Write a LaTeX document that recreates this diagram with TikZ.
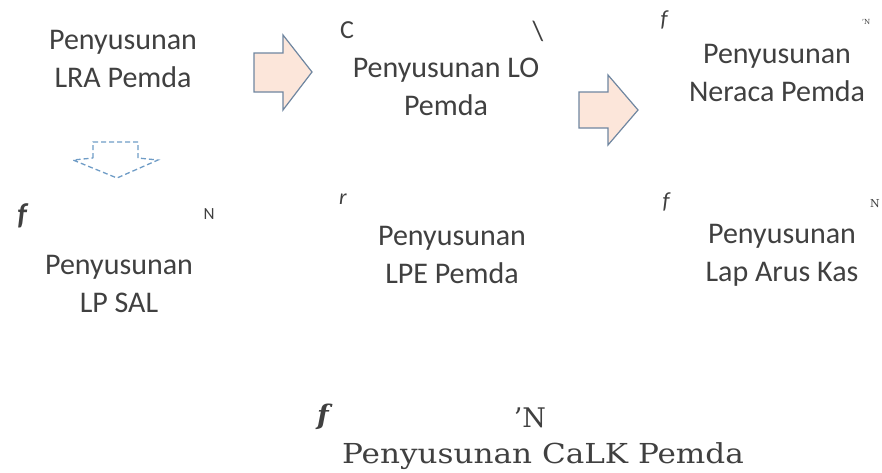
\documentclass[tikz,border=0pt]{standalone}
\usepackage{fontspec}
\setmainfont{Carlito}
\newfontfamily\bookf{DejaVu Serif}
\definecolor{txt}{HTML}{404040}
\definecolor{arrfill}{HTML}{FCE6DA}
\definecolor{arrline}{HTML}{6F86A0}
\definecolor{dashline}{HTML}{6F9CC6}
\tikzset{
  lbl/.style={align=center, text=txt, inner sep=0pt, font=\fontsize{30}{38}\selectfont},
  stray/.style={text=txt, inner sep=0pt},
  blockarrow/.style={draw=arrline, fill=arrfill, line width=1.2pt, line join=miter},
  dasharrow/.style={draw=dashline, line width=1.3pt, dash pattern=on 5pt off 3pt}
}
\begin{document}
\begin{tikzpicture}[x=1pt,y=-1pt]
\useasboundingbox (0,0) rectangle (882,472);
% main labels
\node[lbl] (lra) at (123,59) {Penyusunan\\LRA Pemda};
\node[lbl] (lo) at (446,87) {Penyusunan LO\\Pemda};
\node[lbl] (ner) at (777,73) {Penyusunan\\Neraca Pemda};
\node[lbl] (sal) at (119,284) {Penyusunan\\LP SAL};
\node[lbl] (lpe) at (452,255) {Penyusunan\\LPE Pemda};
\node[lbl] (kas) at (782,255) {Penyusunan\\Lap Arus Kas};
\node[stray, font=\bookf\fontsize{27.5}{30}\selectfont] (calk) at (543,456) {\scalebox{1.13}[1]{Penyusunan CaLK Pemda}};
% stray marks
\node[stray, font=\fontsize{26}{28}\selectfont] (s1) at (347,30) {C};
\node[stray, font=\fontsize{28}{30}\selectfont] (s2) at (538,31) {\textbackslash};
\node[stray, font=\itshape\fontsize{23}{24}\selectfont] (s3) at (664,20) {f};
\node[stray, font=\bookf\fontsize{7}{8}\selectfont] (s4) at (866,22) {’N};
\node[stray, font=\bfseries\itshape\fontsize{30}{32}\selectfont] (s5) at (22,216) {f};
\node[stray, font=\fontsize{17}{18}\selectfont] (s6) at (209,214) {N};
\node[stray, font=\itshape\fontsize{22}{24}\selectfont] (s7) at (343,199) {r};
\node[stray, font=\itshape\fontsize{23}{24}\selectfont] (s8) at (666,202) {f};
\node[stray, font=\bookf\fontsize{11}{12}\selectfont] (s9) at (875,204) {N};
\node[stray, font=\bookf\bfseries\itshape\fontsize{27}{28}\selectfont] (s10) at (323,417) {f};
\node[stray, font=\bookf\fontsize{27}{28}\selectfont] (s11) at (530,418) {’N};
% block arrows
\draw[blockarrow] (254,53) -- (283,53) -- (283,35) -- (312,72) -- (283,110) -- (283,92) -- (254,92) -- cycle;
\draw[blockarrow] (579,92) -- (608,92) -- (608,75) -- (638,110) -- (608,145) -- (608,128) -- (579,128) -- cycle;
\draw[dasharrow] (93,158) -- (93,142) -- (138,142) -- (138,158) -- (158,160) -- (117,178) -- (73,160) -- cycle;
\end{tikzpicture}
\end{document}
